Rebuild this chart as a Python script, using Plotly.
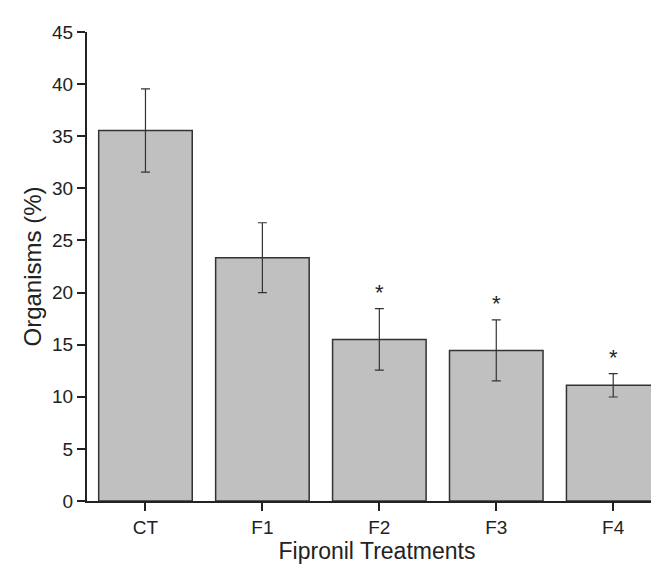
import plotly.graph_objects as go

categories = ["CT", "F1", "F2", "F3", "F4"]
means = [35.55, 23.35, 15.5, 14.45, 11.1]
errors = [4.0, 3.35, 2.95, 2.93, 1.12]
significant = [False, False, True, True, True]
y_ticks = [0, 5, 10, 15, 20, 25, 30, 35, 40, 45]

FONT = "Liberation Sans, Arial, sans-serif"

fig = go.Figure()
fig.add_trace(go.Bar(
    x=categories, y=means, width=0.8,
    marker=dict(color="#c0c0c0", line=dict(color="#333333", width=1.5)),
    error_y=dict(type="data", array=errors, visible=True,
                 color="#333333", thickness=1.2, width=4.5),
    showlegend=False,
))

for c, m, e, s in zip(categories, means, errors, significant):
    if s:
        fig.add_annotation(x=c, y=m + e, text="*", showarrow=False,
                           yanchor="bottom", yshift=2,
                           font=dict(family=FONT, size=22, color="#222222"))

fig.update_layout(
    width=659, height=564,
    margin=dict(l=79, r=0, t=24, b=71),
    paper_bgcolor="white", plot_bgcolor="white",
    font=dict(family=FONT, size=19, color="#222222"),
    bargap=0.2,
)
fig.update_xaxes(
    range=[-0.5, 4.46], showline=True, linecolor="#222222", linewidth=2,
    ticks="outside", ticklen=8, tickwidth=2, tickcolor="#222222",
    showgrid=False, zeroline=False,
    title=dict(text="Fipronil Treatments", font=dict(size=23), standoff=4),
)
fig.update_yaxes(
    range=[0, 45], tickvals=y_ticks, showline=True, linecolor="#222222", linewidth=2,
    ticks="outside", ticklen=8, tickwidth=2, tickcolor="#222222",
    showgrid=False, zeroline=False,
    title=dict(text="Organisms (%)", font=dict(size=24), standoff=4),
)

fig.write_html("out.html")
